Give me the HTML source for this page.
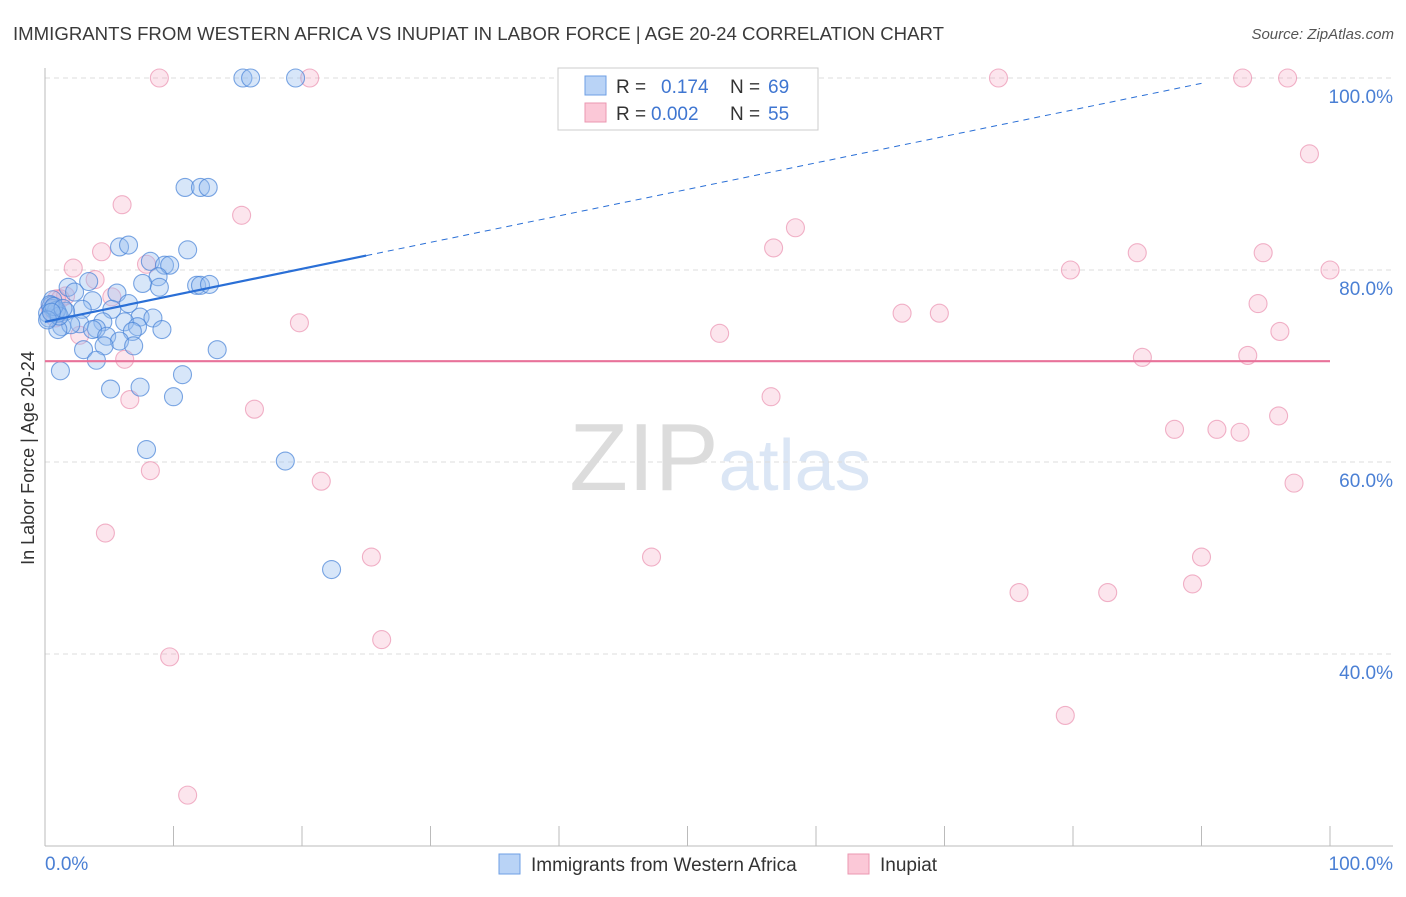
<!DOCTYPE html>
<html><head><meta charset="utf-8">
<style>
body{margin:0;background:#fff;font-family:"Liberation Sans",sans-serif;}
svg text{font-family:"Liberation Sans",sans-serif;}
</style></head>
<body>
<svg id="chart" width="1406" height="892" viewBox="0 0 1406 892" xmlns="http://www.w3.org/2000/svg">
<text x="13" y="40" font-size="18.6" fill="#3a3a3a" textLength="931" lengthAdjust="spacingAndGlyphs">IMMIGRANTS FROM WESTERN AFRICA VS INUPIAT IN LABOR FORCE | AGE 20-24 CORRELATION CHART</text>
<text x="1394" y="39" font-size="15" fill="#555" text-anchor="end" font-style="italic">Source: ZipAtlas.com</text>
<text x="720" y="490" font-size="96" text-anchor="middle" fill="#e4e4e4" font-family="Liberation Serif"><tspan fill="#dcdcdc">ZIP</tspan><tspan fill="#dbe6f5" font-family="Liberation Sans" font-size="72">atlas</tspan></text>
<g id="grid"></g>
<g id="axes"></g>
<g id="pts"></g>
<g id="trends"></g>
<text transform="translate(34,458) rotate(-90)" font-size="18" fill="#333" text-anchor="middle">In Labor Force | Age 20-24</text>
<g>
<rect x="558" y="68" width="260" height="62" fill="#fff" stroke="#ccc"/>
<rect x="585" y="76" width="21" height="19" fill="#b9d3f6" stroke="#6e9fe4"/>
<text x="616" y="93" font-size="19" fill="#333">R =</text>
<text x="661" y="93" font-size="19" fill="#3f76d1">0.174</text>
<text x="730" y="93" font-size="19" fill="#333">N =</text>
<text x="768" y="93" font-size="19" fill="#3f76d1">69</text>
<rect x="585" y="103" width="21" height="19" fill="#fbc8d7" stroke="#eb97b1"/>
<text x="616" y="120" font-size="19" fill="#333">R =</text>
<text x="651" y="120" font-size="19" fill="#3f76d1">0.002</text>
<text x="730" y="120" font-size="19" fill="#333">N =</text>
<text x="768" y="120" font-size="19" fill="#3f76d1">55</text>
</g>
<g>
<rect x="499" y="854" width="21" height="20" fill="#b9d3f6" stroke="#6e9fe4"/>
<text x="531" y="871" font-size="19" fill="#333">Immigrants from Western Africa</text>
<rect x="848" y="854" width="21" height="20" fill="#fbc8d7" stroke="#eb97b1"/>
<text x="880" y="871" font-size="19" fill="#333">Inupiat</text>
</g>
</svg>
<script>
const yTicks=[40,60,80,100];
const yTickLabels=["40.0%","60.0%","80.0%","100.0%"];
const xTicks=[0,10,20,30,40,50,60,70,80,90,100];
const blueX=[15.4,16.0,19.5,10.9,12.1,12.7,5.8,6.5,11.1,8.2,9.3,9.7,8.8,7.6,8.9,11.8,12.1,12.8,3.4,1.8,2.3,5.6,0.6,3.7,0.5,0.8,0.2,6.5,5.2,2.9,1.6,7.4,8.4,6.2,4.5,2.7,7.2,1.3,2.0,4.0,3.7,1.0,9.1,6.8,4.8,5.8,4.6,6.9,13.4,3.0,4.0,1.2,10.7,5.1,7.4,10.0,7.9,18.7,22.3,1.0,0.6,0.3,0.9,0.4,1.1,0.7,0.2,1.4,0.5];
const blueY=[100,100,100,88.6,88.6,88.6,82.4,82.6,82.1,80.9,80.5,80.5,79.3,78.6,78.2,78.4,78.4,78.5,78.8,78.2,77.7,77.6,76.9,76.8,76.3,75.7,75.5,76.5,75.9,75.9,75.7,75.1,75.0,74.6,74.6,74.4,74.1,74.1,74.3,73.9,73.8,73.8,73.8,73.6,73.1,72.6,72.1,72.1,71.7,71.7,70.6,69.5,69.1,67.6,67.8,66.8,61.3,60.1,48.8,75.5,76.0,75.0,75.8,76.4,75.2,76.2,74.8,76.0,75.6];
const pinkX=[8.9,20.6,74.2,93.2,96.7,98.4,6.0,15.3,58.4,56.7,85.0,94.8,4.4,2.2,7.9,79.8,100,3.9,1.6,5.2,0.9,94.4,66.7,69.6,19.8,52.5,96.1,2.7,6.2,85.4,93.6,6.6,56.5,16.3,96.0,87.9,91.2,93.0,8.2,21.5,97.2,4.7,47.2,25.4,90.0,75.8,82.7,89.3,26.2,9.7,79.4,11.1,0.4,0.8,1.2];
const pinkY=[100,100,100,100,100,92.1,86.8,85.7,84.4,82.3,81.8,81.8,81.9,80.2,80.6,80.0,80.0,79.0,77.3,77.2,77.0,76.5,75.5,75.5,74.5,73.4,73.6,73.2,70.7,70.9,71.1,66.5,66.8,65.5,64.8,63.4,63.4,63.1,59.1,58.0,57.8,52.6,50.1,50.1,50.1,46.4,46.4,47.3,41.5,39.7,33.6,25.3,76.0,75.0,77.0];
const blueTrend=[74.6,0.276];
const pinkTrend=[70.5,0.0];
const NS="http://www.w3.org/2000/svg";
const X0=45,X1=1330,YB=846,YT=78;
function xs(v){return X0+(X1-X0)*v/100;}
function ys(v){return YB-(YB-YT)*(v-20)/80;}
function mk(tag,attrs,parent){const e=document.createElementNS(NS,tag);for(const k in attrs)e.setAttribute(k,attrs[k]);document.getElementById(parent).appendChild(e);return e;}
yTicks.forEach((t,i)=>{
 const g=mk('line',{x1:X0,x2:1393,y1:ys(t),y2:ys(t),stroke:'#dcdcdc','stroke-dasharray':'5,4'},'grid');
 
 
 const l=mk('text',{x:1393,y:ys(t)+25,'font-size':19,fill:'#4a7fd4','text-anchor':'end'},'axes');
 l.textContent=yTickLabels[i];
 
 
});
const ax=mk('line',{x1:X0,x2:X0,y1:68,y2:YB,stroke:'#bbb'},'axes');


const bx=mk('line',{x1:X0,x2:1393,y1:YB,y2:YB,stroke:'#bbb'},'axes');


xTicks.forEach(t=>{const e=mk('line',{x1:xs(t),x2:xs(t),y1:YB-20,y2:YB,stroke:'#bbb'},'axes');
 
 });
const xl0=mk('text',{x:X0,y:870,'font-size':19,fill:'#4a7fd4'},'axes');xl0.textContent='0.0%';


const xl1=mk('text',{x:1393,y:870,'font-size':19,fill:'#4a7fd4','text-anchor':'end'},'axes');xl1.textContent='100.0%';


pinkX.forEach((v,i)=>{const c=mk('circle',{cx:xs(v),cy:ys(pinkY[i]),r:9,fill:'rgba(246,170,195,0.3)',stroke:'rgba(232,130,165,0.6)','stroke-width':1.1},'pts');
 
 });
blueX.forEach((v,i)=>{const c=mk('circle',{cx:xs(v),cy:ys(blueY[i]),r:9,fill:'rgba(150,190,240,0.38)',stroke:'rgba(70,130,215,0.7)','stroke-width':1.1},'pts');
 
 });
const bs=mk('line',{x1:xs(0),y1:ys(blueTrend[0]),x2:xs(25),y2:ys(blueTrend[0]+blueTrend[1]*25),stroke:'#2a6fd6','stroke-width':2.2},'trends');


const bd=mk('line',{x1:xs(25),y1:ys(blueTrend[0]+blueTrend[1]*25),x2:xs(90),y2:ys(blueTrend[0]+blueTrend[1]*90),stroke:'#2a6fd6','stroke-width':1,'stroke-dasharray':'6,5'},'trends');


const pl=mk('line',{x1:xs(0),y1:ys(pinkTrend[0]),x2:xs(100),y2:ys(pinkTrend[0]+pinkTrend[1]*100),stroke:'#e8729a','stroke-width':2.2},'trends');


</script>
</body></html>
